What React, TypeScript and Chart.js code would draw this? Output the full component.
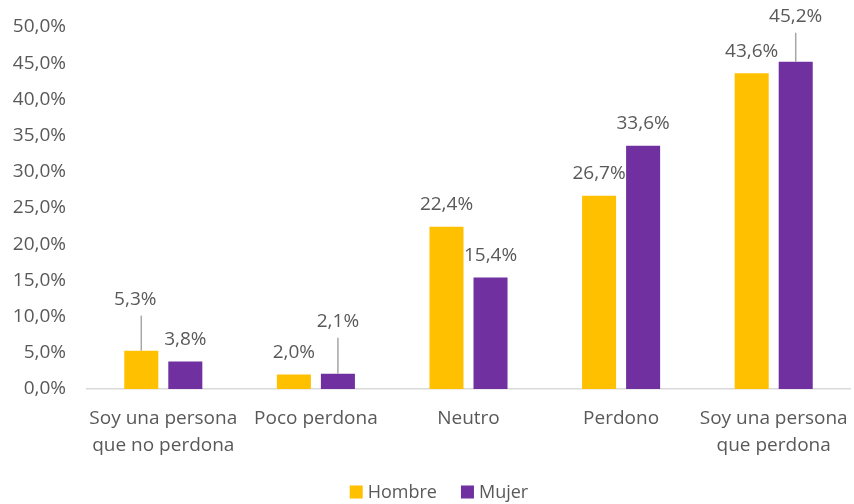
import React, { useEffect, useRef } from "react";
import { Chart, registerables } from "chart.js";

Chart.register(...registerables);

const categories: string[][] = [
  ["Soy una persona", "que no perdona"],
  ["Poco perdona"],
  ["Neutro"],
  ["Perdono"],
  ["Soy una persona", "que perdona"],
];
const hombre = [5.3, 2.0, 22.4, 26.7, 43.6];
const mujer = [3.8, 2.1, 15.4, 33.6, 45.2];
const seriesNames = ["Hombre", "Mujer"];
const seriesColors = ["#FFC000", "#7030A0"];

// manual label displacements (px) for labels moved off their bars, with leader lines
const labelOffsets: Record<string, { dx: number; dy: number }> = {
  "0-0": { dx: -6, dy: -29 },
  "1-1": { dx: 0, dy: -30 },
  "1-4": { dx: 0, dy: -23 },
};

const FONT = "'Open Sans', 'Liberation Sans', sans-serif";
const TEXT = "#595959";

const fmt = (v: number) => v.toFixed(1).replace(".", ",") + "%";

const labelPlugin = {
  id: "barLabels",
  afterDatasetsDraw(chart: any) {
    const ctx = chart.ctx;
    ctx.save();
    ctx.font = `19px ${FONT}`;
    ctx.fillStyle = TEXT;
    ctx.textAlign = "center";
    ctx.textBaseline = "middle";
    chart.data.datasets.forEach((ds: any, di: number) => {
      const meta = chart.getDatasetMeta(di);
      meta.data.forEach((bar: any, i: number) => {
        const off = labelOffsets[`${di}-${i}`];
        const lx = bar.x + (off ? off.dx : 0);
        const ly = bar.y - 22 + (off ? off.dy : 0);
        if (off) {
          ctx.strokeStyle = "#A6A6A6";
          ctx.lineWidth = 1.5;
          ctx.beginPath();
          ctx.moveTo(bar.x, ly + 16);
          ctx.lineTo(bar.x, bar.y);
          ctx.stroke();
        }
        ctx.fillText(fmt(ds.data[i]), lx, ly);
      });
    });
    ctx.restore();
  },
};

const legendPlugin = {
  id: "customLegend",
  afterDraw(chart: any) {
    const ctx = chart.ctx;
    ctx.save();
    ctx.font = `18px ${FONT}`;
    ctx.textBaseline = "middle";
    ctx.textAlign = "left";
    const box = 13;
    const gap = 5;
    const itemGap = 24;
    const widths = seriesNames.map((n) => box + gap + ctx.measureText(n).width);
    const total = widths.reduce((a, b) => a + b, 0) + itemGap * (widths.length - 1);
    let x = chart.width * 0.514 - total / 2;
    const y = chart.height - 12;
    seriesNames.forEach((n, i) => {
      ctx.fillStyle = seriesColors[i];
      ctx.fillRect(x, y - box / 2, box, box);
      ctx.fillStyle = TEXT;
      ctx.fillText(n, x + box + gap, y + 1);
      x += widths[i] + itemGap;
    });
    ctx.restore();
  },
};

export default function App() {
  const ref = useRef<HTMLCanvasElement | null>(null);
  useEffect(() => {
    document.body.style.margin = "0";
    const chart = new Chart(ref.current as HTMLCanvasElement, {
      type: "bar",
      data: {
        labels: categories,
        datasets: [
          { label: seriesNames[0], data: hombre, backgroundColor: seriesColors[0] },
          { label: seriesNames[1], data: mujer, backgroundColor: seriesColors[1] },
        ],
      },
      options: {
        animation: false,
        responsive: false,
        layout: { padding: { top: 27, right: 4, bottom: 0, left: 0 } },
        datasets: { bar: { categoryPercentage: 0.577, barPercentage: 0.773 } },
        plugins: { legend: { display: false }, tooltip: { enabled: false } },
        scales: {
          x: {
            grid: { display: false, drawTicks: false },
            border: { display: true, color: "#D9D9D9", width: 1.5 },
            ticks: {
              color: TEXT,
              font: { family: FONT, size: 19, lineHeight: 1.42 },
              padding: 16,
              maxRotation: 0,
              autoSkip: false,
            },
            afterFit: (s: any) => {
              s.height = 115;
              s.paddingLeft = 0;
              s.paddingRight = 0;
            },
          },
          y: {
            min: 0,
            max: 50,
            grid: { display: false, drawTicks: false },
            border: { display: false },
            ticks: {
              stepSize: 5,
              color: TEXT,
              font: { family: FONT, size: 19 },
              padding: 21,
              callback: (v: any) => fmt(Number(v)),
            },
            afterFit: (s: any) => {
              s.width = 87;
              s.paddingTop = 0;
              s.paddingBottom = 0;
            },
          },
        },
      },
      plugins: [labelPlugin, legendPlugin],
    });
    return () => chart.destroy();
  }, []);
  return (
    <div style={{ width: 854, height: 504 }}>
      <canvas ref={ref} width={854} height={504} />
    </div>
  );
}
